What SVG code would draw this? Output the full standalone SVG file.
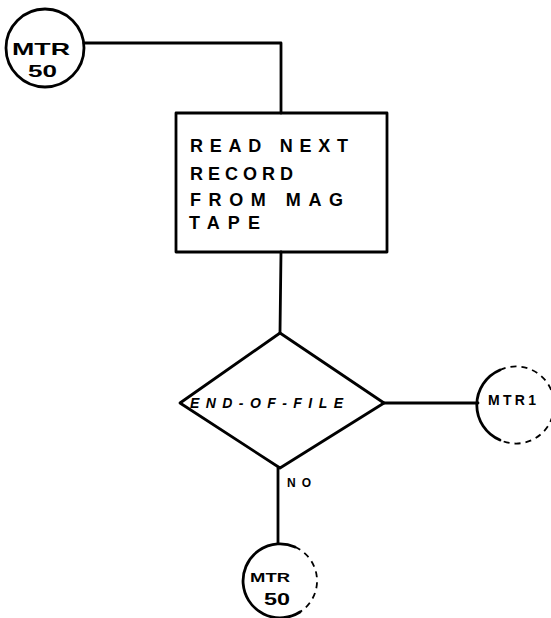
<svg xmlns="http://www.w3.org/2000/svg" width="551" height="618" viewBox="0 0 551 618">
<style>
.s{fill:none;stroke:#000;stroke-width:2.8;stroke-linecap:round;stroke-linejoin:round}
.f{fill:none;stroke:#000;stroke-width:1.8;stroke-dasharray:6 5}
.t{font-family:"Liberation Sans","DejaVu Sans",sans-serif;fill:#000;font-weight:bold}
</style>
<rect width="551" height="618" fill="#fff"/>
<g id="connectors">
<polyline class="s" points="84,43 281,43 281,113"/>
<line class="s" x1="281" y1="252" x2="280" y2="333"/>
<line class="s" x1="384" y1="403" x2="478" y2="403"/>
<line class="s" x1="278" y1="468" x2="278" y2="543"/>
<text class="t" x="287" y="487" font-size="12" textLength="24" lengthAdjust="spacing">NO</text>
</g>
<g id="mtr50-top">
<circle class="s" cx="45" cy="48" r="39"/>
<text class="t" x="12" y="55" font-size="17" textLength="58" lengthAdjust="spacingAndGlyphs">MTR</text>
<text class="t" x="28" y="77" font-size="17" textLength="29" lengthAdjust="spacingAndGlyphs">50</text>
</g>
<g id="read-box">
<rect class="s" x="176" y="113" width="211" height="139"/>
<text class="t" x="190" y="152" font-size="18" textLength="158" lengthAdjust="spacing">READ NEXT</text>
<text class="t" x="190" y="180" font-size="18" textLength="103" lengthAdjust="spacing">RECORD</text>
<text class="t" x="190" y="206" font-size="18" textLength="153" lengthAdjust="spacing">FROM MAG</text>
<text class="t" x="189" y="229" font-size="18" textLength="71" lengthAdjust="spacing">TAPE</text>
</g>
<g id="eof-decision">
<polygon class="s" points="280,333 384,403 280,468 180,403"/>
<text class="t" x="190" y="408" font-size="14" font-style="italic" textLength="153" lengthAdjust="spacing">END-OF-FILE</text>
</g>
<g id="mtr1">
<path class="s" d="M500,370 A38,38 0 0 0 500,440"/>
<path class="f" d="M500,370 A38,38 0 0 1 554,405 A38,38 0 0 1 500,440"/>
<text class="t" x="488" y="405" font-size="14" textLength="48" lengthAdjust="spacing">MTR1</text>
</g>
<g id="mtr50-bottom">
<path class="s" d="M295,547 A37,37 0 1 0 300,612"/>
<path class="f" d="M295,547 A37,37 0 0 1 300,612"/>
<text class="t" x="250" y="582" font-size="13" textLength="40" lengthAdjust="spacingAndGlyphs">MTR</text>
<text class="t" x="264" y="605" font-size="17" textLength="26" lengthAdjust="spacingAndGlyphs">50</text>
</g>
</svg>
